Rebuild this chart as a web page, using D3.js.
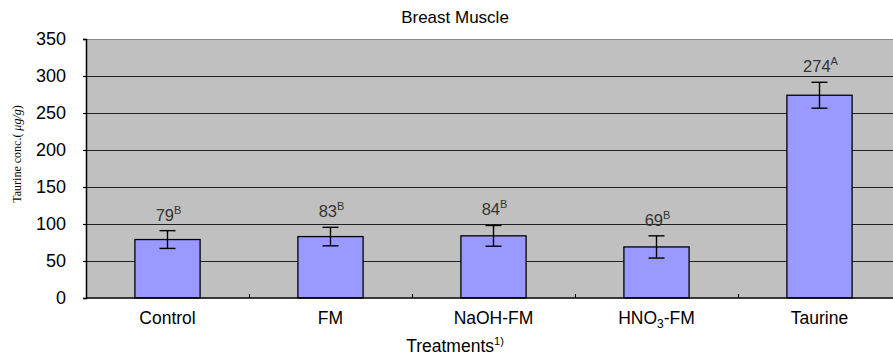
<!DOCTYPE html>
<html>
<head>
<meta charset="utf-8">
<script src="https://cdn.jsdelivr.net/npm/d3@7"></script>
<style>
  body { margin: 0; background: #fff; }
  svg { display: block; font-family: "Liberation Sans", Arial, sans-serif; }
</style>
</head>
<body>
<div id="chart"></div>
<script>
// data
const categories = ["Control", "FM", "NaOH-FM", "HNO3-FM", "Taurine"];
const means = [79, 83, 84, 69, 274];
const errors = [12, 12.5, 14, 15, 17.5];
const letters = ["B", "B", "B", "B", "A"];
const yTicks = [0, 50, 100, 150, 200, 250, 300, 350];

const width = 893, height = 355;
const plot = { left: 86, right: 901, top: 39, bottom: 298 };

const data = categories.map((c, i) => ({ cat: c, mean: means[i], err: errors[i], letter: letters[i] }));

const svg = d3.select('#chart').append('svg')
    .attr('width', width)
    .attr('height', height);

const x = d3.scaleBand()
    .domain(categories)
    .range([plot.left, plot.right])
    .padding(0);

const y = d3.scaleLinear()
    .domain([0, 350])
    .range([plot.bottom, plot.top]);

const barW = x.bandwidth() * 0.4;

// plot background
svg.append('rect')
    .attr('x', plot.left)
    .attr('y', plot.top)
    .attr('width', plot.right - plot.left)
    .attr('height', plot.bottom - plot.top)
    .style('fill', '#c0c0c0');

// gridlines
svg.append('g')
    .selectAll('line')
    .data(yTicks.filter(d => d > 0))
    .enter()
    .append('line')
    .attr('x1', plot.left)
    .attr('x2', plot.right)
    .attr('y1', d => y(d) + 0.5)
    .attr('y2', d => y(d) + 0.5)
    .style('stroke', d => d === 350 ? '#8a8a8a' : '#202020')
    .style('stroke-width', 1);

// bars
svg.append('g')
    .selectAll('rect')
    .data(data)
    .enter()
    .append('rect')
    .attr('x', d => x(d.cat) + (x.bandwidth() - barW) / 2)
    .attr('y', d => y(d.mean))
    .attr('width', barW)
    .attr('height', d => y(0) - y(d.mean))
    .style('fill', '#9999ff')
    .style('stroke', '#000')
    .style('stroke-width', 1.3);

// error bars
const eb = svg.append('g')
    .selectAll('g')
    .data(data)
    .enter()
    .append('g')
    .attr('transform', d => `translate(${x(d.cat) + x.bandwidth() / 2},0)`)
    .style('stroke', '#000')
    .style('stroke-width', 1.4);

eb.append('line')
    .attr('x1', 0).attr('x2', 0)
    .attr('y1', d => y(d.mean + d.err))
    .attr('y2', d => y(d.mean - d.err));
eb.append('line')
    .attr('x1', -8).attr('x2', 8)
    .attr('y1', d => y(d.mean + d.err))
    .attr('y2', d => y(d.mean + d.err));
eb.append('line')
    .attr('x1', -8).attr('x2', 8)
    .attr('y1', d => y(d.mean - d.err))
    .attr('y2', d => y(d.mean - d.err));

// value labels with superscript letters
const lbl = svg.append('g')
    .selectAll('text')
    .data(data)
    .enter()
    .append('text')
    .attr('x', d => x(d.cat) + x.bandwidth() / 2 + 1)
    .attr('y', d => y(d.mean + d.err) - 10)
    .attr('text-anchor', 'middle')
    .style('font-size', '16.5px')
    .style('fill', '#333');
lbl.append('tspan').text(d => d.mean);
lbl.append('tspan')
    .attr('dy', -7)
    .style('font-size', '11px')
    .text(d => d.letter);

// y axis
const yAxis = svg.append('g')
    .attr('transform', `translate(${plot.left},0)`)
    .call(d3.axisLeft(y).tickValues(yTicks).tickSize(3).tickPadding(17));
yAxis.select('.domain').style('stroke', '#000').style('stroke-width', 1.5);
yAxis.selectAll('.tick line').style('stroke', '#000').style('stroke-width', 1.2);
yAxis.selectAll('.tick text')
    .style('font-size', '18px')
    .style('font-family', '"Liberation Sans", Arial, sans-serif')
    .style('fill', '#000');

// x axis: ticks at band boundaries pointing up
const xAxis = svg.append('g')
    .attr('transform', `translate(0,${plot.bottom})`);
xAxis.append('line')
    .attr('x1', plot.left).attr('x2', plot.right)
    .attr('y1', 0).attr('y2', 0)
    .style('stroke', '#000')
    .style('stroke-width', 1.5);
xAxis.selectAll('.bound')
    .data(categories.slice(1))
    .enter()
    .append('line')
    .attr('class', 'bound')
    .attr('x1', d => x(d) + 0.5).attr('x2', d => x(d) + 0.5)
    .attr('y1', 0).attr('y2', -4)
    .style('stroke', '#000');

const xl = xAxis.selectAll('.lab')
    .data(categories)
    .enter()
    .append('text')
    .attr('class', 'lab')
    .attr('x', d => x(d) + x.bandwidth() / 2)
    .attr('y', 26)
    .attr('text-anchor', 'middle')
    .style('font-size', '17.5px')
    .style('fill', '#000');
xl.each(function (d) {
    const t = d3.select(this);
    if (d === 'HNO3-FM') {
        t.append('tspan').text('HNO');
        t.append('tspan').attr('dy', 4).style('font-size', '12px').text('3');
        t.append('tspan').attr('dy', -4).text('-FM');
    } else {
        t.text(d);
    }
});

// titles
svg.append('text')
    .attr('x', 455)
    .attr('y', 23)
    .attr('text-anchor', 'middle')
    .style('font-size', '17px')
    .style('fill', '#000')
    .text('Breast  Muscle');

const xt = svg.append('text')
    .attr('x', 455)
    .attr('y', 352)
    .attr('text-anchor', 'middle')
    .style('font-size', '17.5px')
    .style('fill', '#000');
xt.append('tspan').text('Treatments');
xt.append('tspan').attr('dy', -7).style('font-size', '11px').text('1)');

const yt = svg.append('text')
    .attr('transform', 'translate(21,154) rotate(-90)')
    .attr('text-anchor', 'middle')
    .style('font-family', '"Liberation Serif", "Times New Roman", serif')
    .style('font-size', '12px')
    .style('fill', '#000');
yt.append('tspan').text('Taurine conc.( ');
yt.append('tspan').style('font-style', 'italic').text('μg/g');
yt.append('tspan').text(')');
</script>
</body>
</html>
